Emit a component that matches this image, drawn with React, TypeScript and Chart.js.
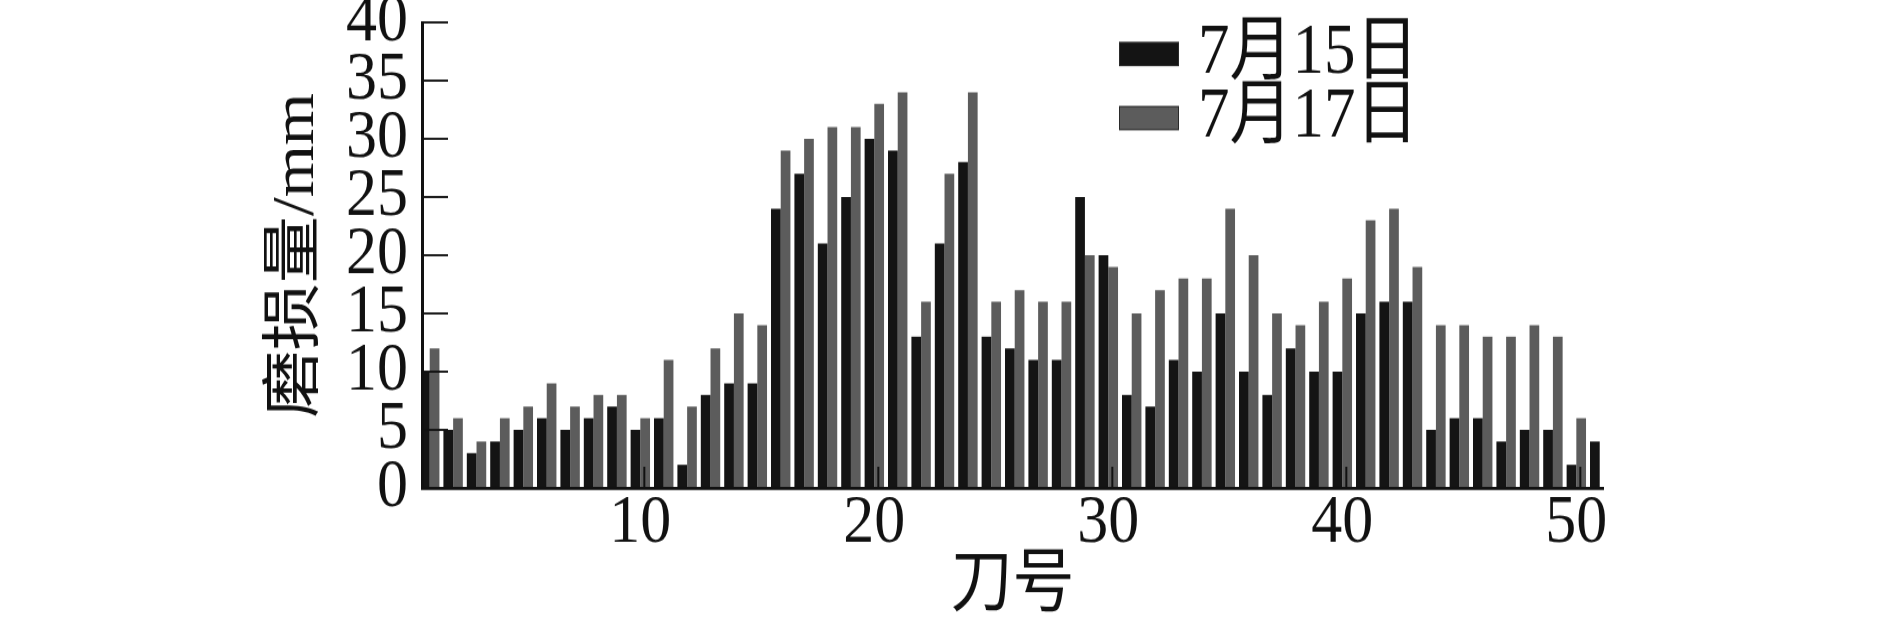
import React, { useEffect, useRef } from 'react';
import { Chart, registerables } from 'chart.js';

Chart.register(...registerables);

// 刀号 (cutter number)
const cutterNumbers = [
  1, 2, 3, 4, 5, 6, 7, 8, 9, 10,
  11, 12, 13, 14, 15, 16, 17, 18, 19, 20,
  21, 22, 23, 24, 25, 26, 27, 28, 29, 30,
  31, 32, 33, 34, 35, 36, 37, 38, 39, 40,
  41, 42, 43, 44, 45, 46, 47, 48, 49, 50,
  51,
];

// 磨损量/mm, 7月15日
const wearJul15 = [
  10, 5, 3, 4, 5, 6, 5, 6, 7, 5,
  6, 2, 8, 9, 9, 24, 27, 21, 25, 30,
  29, 13, 21, 28, 13, 12, 11, 11, 25, 20,
  8, 7, 11, 10, 15, 10, 8, 12, 10, 10,
  15, 16, 16, 5, 6, 6, 4, 5, 5, 2,
  4,
];

// 磨损量/mm, 7月17日
const wearJul17 = [
  12, 6, 4, 6, 7, 9, 7, 8, 8, 6,
  11, 7, 12, 15, 14, 29, 30, 31, 31, 33,
  34, 16, 27, 34, 16, 17, 16, 16, 20, 19,
  15, 17, 18, 18, 24, 20, 15, 14, 16, 18,
  23, 24, 19, 14, 14, 13, 13, 14, 13, 6,
  null,
];

const seriesLabels = ['7月15日', '7月17日'];
const seriesColors = ['#141414', '#5c5c5c'];
const xTickValues = [10, 20, 30, 40, 50];
const yTickValues = [0, 5, 10, 15, 20, 25, 30, 35, 40];
const xTitle = '刀号';
const yTitle = '磨损量/mm';

const SERIF = "'Liberation Serif', 'Times New Roman', 'Noto Sans CJK SC', serif";
const INK = '#111111';

// The reference figure is slightly stretched vertically: draw at a reduced
// internal height and let CSS stretch the canvas back to the page size.
const PAGE_W = 1889;
const PAGE_H = 619;
const CANVAS_H = 553;

const innerTicksPlugin = {
  id: 'innerTicks',
  afterDatasetsDraw(chart: any) {
    const { ctx, chartArea, scales } = chart;
    const xs = scales.x;
    const ys = scales.y;
    ctx.save();
    ctx.strokeStyle = INK;
    ctx.lineWidth = 1.9;
    ys.ticks.forEach((t: any) => {
      if (t.value === 0) return;
      const py = ys.getPixelForValue(t.value);
      ctx.beginPath();
      ctx.moveTo(chartArea.left, py);
      ctx.lineTo(chartArea.left + 26, py);
      ctx.stroke();
    });
    ctx.lineWidth = 2;
    xs.ticks.forEach((t: any) => {
      const px = xs.getPixelForValue(t.value) + 4;
      ctx.beginPath();
      ctx.moveTo(px, chartArea.bottom);
      ctx.lineTo(px, chartArea.bottom - 19);
      ctx.stroke();
    });
    ctx.restore();
  },
};

const legendPlugin = {
  id: 'insetLegend',
  afterDraw(chart: any) {
    const { ctx } = chart;
    const boxLeft = 1119;
    const boxW = 60;
    const boxH = 21.5;
    const firstRow = 48.3;
    const rowStep = 57.2;
    const textLeft = 1198;
    ctx.save();
    chart.data.datasets.forEach((ds: any, i: number) => {
      const cy = firstRow + i * rowStep;
      ctx.fillStyle = ds.backgroundColor;
      ctx.fillRect(boxLeft, cy - boxH / 2, boxW, boxH);
      ctx.strokeStyle = '#2a2a2a';
      ctx.lineWidth = 1;
      ctx.strokeRect(boxLeft + 0.5, cy - boxH / 2 + 0.5, boxW - 1, boxH - 1);
      ctx.fillStyle = INK;
      ctx.font = `63px ${SERIF}`;
      ctx.textBaseline = 'middle';
      ctx.textAlign = 'left';
      ctx.fillText(ds.label, textLeft, cy);
    });
    ctx.restore();
  },
};

export default function App() {
  const canvasRef = useRef<HTMLCanvasElement | null>(null);

  useEffect(() => {
    const canvas = canvasRef.current;
    if (!canvas) return;
    const chart = new Chart(canvas, {
      type: 'bar',
      data: {
        labels: cutterNumbers,
        datasets: [
          {
            label: seriesLabels[0],
            data: wearJul15,
            backgroundColor: seriesColors[0],
            borderWidth: 0,
            barPercentage: 1,
            categoryPercentage: 0.83,
          },
          {
            label: seriesLabels[1],
            data: wearJul17,
            backgroundColor: seriesColors[1],
            borderWidth: 0,
            barPercentage: 1,
            categoryPercentage: 0.83,
          },
        ],
      },
      options: {
        responsive: false,
        animation: false,
        devicePixelRatio: 1,
        layout: { padding: { left: 0, right: 286, top: 20, bottom: 0 } },
        plugins: {
          legend: { display: false },
          tooltip: { enabled: false },
          title: { display: false },
        },
        scales: {
          x: {
            type: 'linear',
            min: 0.67,
            max: 51.14,
            offset: false,
            grid: { display: false, drawTicks: false, offset: false },
            border: { display: true, color: INK, width: 2.8, z: 1 },
            afterBuildTicks: (scale: any) => {
              scale.ticks = xTickValues.map((v) => ({ value: v }));
            },
            afterFit: (scale: any) => {
              scale.height = 117;
              scale.paddingLeft = 0;
              scale.paddingRight = 0;
            },
            ticks: {
              autoSkip: false,
              maxRotation: 0,
              minRotation: 0,
              padding: 1,
              color: INK,
              font: { family: SERIF, size: 62, lineHeight: 1 },
              callback: (v: any) => String(v),
            },
            title: {
              display: true,
              text: xTitle,
              color: INK,
              font: { family: SERIF, size: 62, lineHeight: 1 },
              padding: { top: 0, bottom: -3 },
            },
          },
          y: {
            type: 'linear',
            min: 0,
            max: 40,
            grid: { display: false, drawTicks: false },
            border: { display: true, color: INK, width: 3, z: 1 },
            afterBuildTicks: (scale: any) => {
              scale.ticks = yTickValues.map((v) => ({ value: v }));
            },
            afterFit: (scale: any) => {
              scale.width = 422;
              scale.paddingTop = 0;
              scale.paddingBottom = 0;
            },
            ticks: {
              autoSkip: false,
              padding: 14,
              color: INK,
              font: { family: SERIF, size: 62, lineHeight: 1 },
              callback: (v: any) => String(v),
            },
            title: {
              display: true,
              text: yTitle,
              color: INK,
              font: { family: SERIF, size: 60, lineHeight: 1 },
              padding: { top: 267, bottom: 0 },
            },
          },
        },
      },
      plugins: [innerTicksPlugin, legendPlugin],
    } as any);
    return () => chart.destroy();
  }, []);

  return (
    <div style={{ position: 'absolute', left: 0, top: 0, width: PAGE_W, height: PAGE_H, background: '#ffffff' }}>
      <canvas
        ref={canvasRef}
        width={PAGE_W}
        height={CANVAS_H}
        style={{ display: 'block', width: PAGE_W, height: PAGE_H }}
      />
    </div>
  );
}
